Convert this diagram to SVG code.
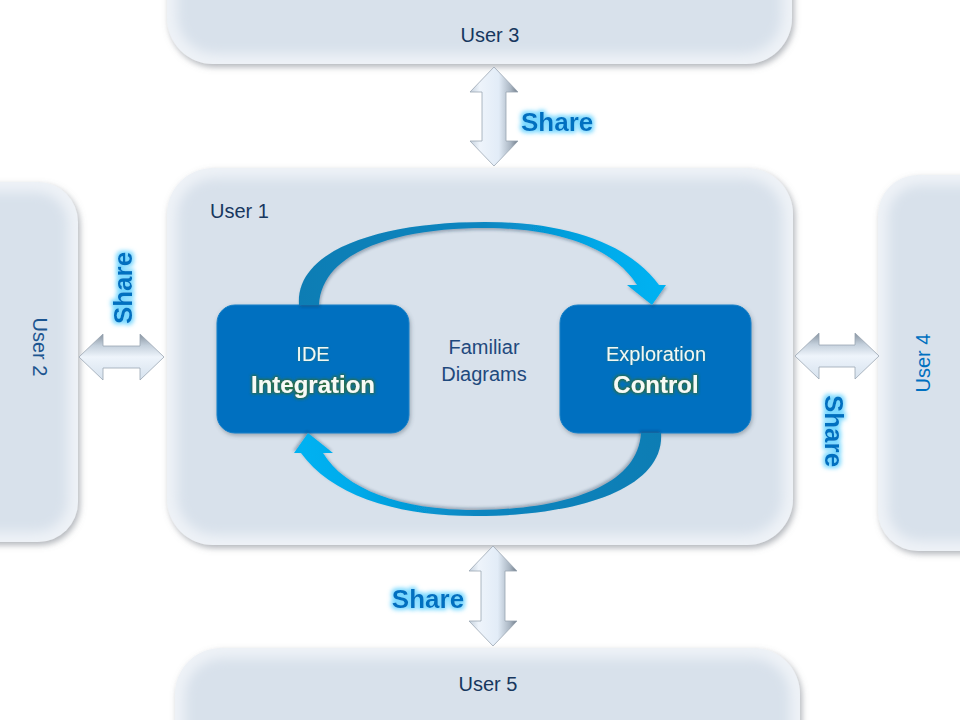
<svg xmlns="http://www.w3.org/2000/svg" width="960" height="720" viewBox="0 0 960 720">
  <style>
    .base { fill: #eef2f7; }
    .inner { fill: #d8e1eb; }
    .ulabel { font-family: "Liberation Sans", Arial, sans-serif; font-size: 20px; fill: #17375e; }
    .bluebox { fill: #0070c0; stroke: #1480c8; stroke-width: 1; }
    .thin { font-family: "Liberation Sans", Arial, sans-serif; font-size: 20px; fill: #f2f8f2; text-anchor: middle; }
    .bold { font-family: "Liberation Sans", Arial, sans-serif; font-size: 24px; font-weight: bold; fill: #f6fbf6; text-anchor: middle; }
    .fam { font-family: "Liberation Sans", Arial, sans-serif; font-size: 20px; fill: #1f497d; text-anchor: middle; }
    .share { font-family: "Liberation Sans", Arial, sans-serif; font-size: 26px; font-weight: bold; fill: #0070c0; }
    .varrow { fill: url(#vgrad); stroke: #9aa6b3; stroke-width: 0.8; }
    .harrow { fill: url(#hgrad); stroke: #9aa6b3; stroke-width: 0.8; }
    .cycle { fill: url(#cgrad); filter: url(#ashadow); }
  </style>
  <defs>
    <filter id="shadow" x="-10%" y="-10%" width="120%" height="125%">
      <feDropShadow dx="2" dy="3" stdDeviation="3" flood-color="#6f7782" flood-opacity="0.55"/>
    </filter>
    <filter id="bshadow" x="-10%" y="-10%" width="120%" height="125%">
      <feDropShadow dx="1" dy="2" stdDeviation="2" flood-color="#3a4a5a" flood-opacity="0.4"/>
    </filter>
    <filter id="ashadow" x="-10%" y="-10%" width="120%" height="130%">
      <feDropShadow dx="1" dy="2" stdDeviation="1.5" flood-color="#1a3550" flood-opacity="0.35"/>
    </filter>
    <filter id="soft" x="-10%" y="-10%" width="120%" height="120%">
      <feGaussianBlur stdDeviation="6"/>
    </filter>
    <filter id="glowG" x="-20%" y="-50%" width="140%" height="200%">
      <feMorphology in="SourceAlpha" operator="dilate" radius="1.2" result="d"/>
      <feGaussianBlur in="d" stdDeviation="1.4" result="b"/>
      <feFlood flood-color="#2f6e35" flood-opacity="0.95"/>
      <feComposite in2="b" operator="in" result="g"/>
      <feMerge><feMergeNode in="g"/><feMergeNode in="SourceGraphic"/></feMerge>
    </filter>
    <filter id="glowT" x="-20%" y="-50%" width="140%" height="200%">
      <feGaussianBlur in="SourceAlpha" stdDeviation="1" result="b"/>
      <feFlood flood-color="#3a7d48" flood-opacity="0.6"/>
      <feComposite in2="b" operator="in" result="g"/>
      <feMerge><feMergeNode in="g"/><feMergeNode in="SourceGraphic"/></feMerge>
    </filter>
    <filter id="glowC" x="-20%" y="-50%" width="140%" height="200%">
      <feMorphology in="SourceAlpha" operator="dilate" radius="1.5" result="d"/>
      <feGaussianBlur in="d" stdDeviation="2" result="b"/>
      <feFlood flood-color="#63d2ff" flood-opacity="0.85"/>
      <feComposite in2="b" operator="in" result="g"/>
      <feMerge><feMergeNode in="g"/><feMergeNode in="SourceGraphic"/></feMerge>
    </filter>
    <linearGradient id="vgrad" x1="0" y1="0" x2="1" y2="0">
      <stop offset="0" stop-color="#c4d0dc"/>
      <stop offset="0.2" stop-color="#eef4fb"/>
      <stop offset="0.6" stop-color="#e2ecf7"/>
      <stop offset="0.85" stop-color="#a9b5c2"/>
      <stop offset="1" stop-color="#6f7b88"/>
    </linearGradient>
    <linearGradient id="hgrad" x1="0" y1="0" x2="0" y2="1">
      <stop offset="0" stop-color="#8793a0"/>
      <stop offset="0.25" stop-color="#c4d0dc"/>
      <stop offset="0.5" stop-color="#eef4fb"/>
      <stop offset="1" stop-color="#d6e2ee"/>
    </linearGradient>
    <linearGradient id="cgrad" gradientUnits="userSpaceOnUse" x1="299" y1="0" x2="665" y2="0">
      <stop offset="0" stop-color="#0a7db4"/>
      <stop offset="0.5" stop-color="#0a86c0"/>
      <stop offset="0.85" stop-color="#02acec"/>
      <stop offset="1" stop-color="#00b2f2"/>
    </linearGradient>
    <clipPath id="c1"><rect x="167" y="168" width="626" height="377" rx="46"/></clipPath>
    <clipPath id="c2"><rect x="-60" y="182" width="138" height="360" rx="40"/></clipPath>
    <clipPath id="c3"><rect x="167" y="-60" width="625" height="124" rx="46"/></clipPath>
    <clipPath id="c4"><rect x="878" y="175" width="140" height="376" rx="40"/></clipPath>
    <clipPath id="c5"><rect x="175" y="648" width="625" height="130" rx="46"/></clipPath>
  </defs>

  <rect width="960" height="720" fill="#ffffff"/>

  <g id="user3">
    <rect class="base" x="167" y="-60" width="625" height="124" rx="46" filter="url(#shadow)"/>
    <g clip-path="url(#c3)"><rect class="inner" x="177" y="-60" width="605" height="114" rx="38" filter="url(#soft)"/></g>
    <text class="ulabel" x="490" y="42" text-anchor="middle">User 3</text>
  </g>

  <g id="user5">
    <rect class="base" x="175" y="648" width="625" height="130" rx="46" filter="url(#shadow)"/>
    <g clip-path="url(#c5)"><rect class="inner" x="185" y="658" width="605" height="120" rx="38" filter="url(#soft)"/></g>
    <text class="ulabel" x="488" y="691" text-anchor="middle">User 5</text>
  </g>

  <g id="user2">
    <rect class="base" x="-60" y="182" width="138" height="360" rx="40" filter="url(#shadow)"/>
    <g clip-path="url(#c2)"><rect class="inner" x="-60" y="192" width="128" height="340" rx="32" filter="url(#soft)"/></g>
    <text class="ulabel" transform="translate(33,347) rotate(90)" text-anchor="middle" style="fill:#1c5590">User 2</text>
  </g>

  <g id="user4">
    <rect class="base" x="878" y="175" width="140" height="376" rx="40" filter="url(#shadow)"/>
    <g clip-path="url(#c4)"><rect class="inner" x="888" y="185" width="130" height="356" rx="32" filter="url(#soft)"/></g>
    <text class="ulabel" transform="translate(930,363) rotate(-90)" text-anchor="middle" style="fill:#0070c0">User 4</text>
  </g>

  <g id="user1">
    <rect class="base" x="167" y="168" width="626" height="377" rx="46" filter="url(#shadow)"/>
    <g clip-path="url(#c1)"><rect class="inner" x="177" y="178" width="606" height="357" rx="38" filter="url(#soft)"/></g>
    <text class="ulabel" x="210" y="218">User 1</text>
  </g>

  <g id="ide">
    <rect class="bluebox" x="217" y="305" width="192" height="128" rx="18" filter="url(#bshadow)"/>
    <text class="thin" x="313" y="361" filter="url(#glowT)">IDE</text>
    <text class="bold" x="313" y="393" filter="url(#glowG)">Integration</text>
  </g>

  <g id="exploration">
    <rect class="bluebox" x="560" y="305" width="191" height="128" rx="18" filter="url(#bshadow)"/>
    <text class="thin" x="656" y="361" filter="url(#glowT)">Exploration</text>
    <text class="bold" x="656" y="393" filter="url(#glowG)">Control</text>
  </g>

  <g id="familiar">
    <text class="fam" x="484" y="354">Familiar</text>
    <text class="fam" x="484" y="381">Diagrams</text>
  </g>

  <g id="connectors">
    <path class="cycle" d="M299,305 C295,250 380,222 485,222 C570,222 630,245 659,285 L666,285 L652,305 L627,285 L637,285 C615,249 560,228 485,228 C400,228 322,250 319,305 Z"/>
    <path class="cycle" transform="rotate(180 480 369)" d="M299,305 C295,250 380,222 485,222 C570,222 630,245 659,285 L666,285 L652,305 L627,285 L637,285 C615,249 560,228 485,228 C400,228 322,250 319,305 Z"/>

    <path class="varrow" d="M494,67 L518,92 L506,92 L506,141 L518,141 L494,166 L470,141 L482,141 L482,92 L470,92 Z"/>
    <path class="varrow" d="M493,546 L517,571 L505,571 L505,621 L517,621 L493,646 L469,621 L481,621 L481,571 L469,571 Z"/>
    <path class="harrow" d="M79,357 L103,334 L103,346 L140,346 L140,334 L164,357 L140,380 L140,368 L103,368 L103,380 Z"/>
    <path class="harrow" d="M795,356 L819,333 L819,345 L855,345 L855,333 L879,356 L855,379 L855,367 L819,367 L819,379 Z"/>

    <text class="share" x="521" y="131" filter="url(#glowC)">Share</text>
    <text class="share" x="428" y="608" text-anchor="middle" filter="url(#glowC)">Share</text>
    <text class="share" transform="translate(132,288) rotate(-90)" text-anchor="middle" filter="url(#glowC)">Share</text>
    <text class="share" transform="translate(825,431) rotate(90)" text-anchor="middle" filter="url(#glowC)">Share</text>
  </g>
</svg>
